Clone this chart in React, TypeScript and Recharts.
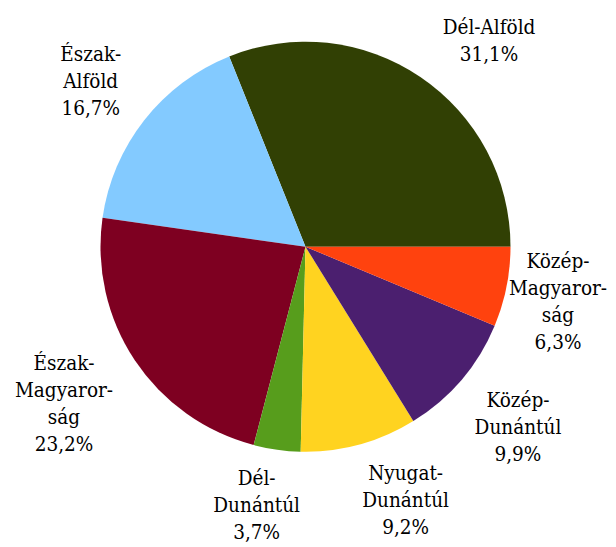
import React from "react";
import { PieChart, Pie, Cell } from "recharts";

const regions = [
  "Dél-Alföld",
  "Észak-Alföld",
  "Észak-Magyarország",
  "Dél-Dunántúl",
  "Nyugat-Dunántúl",
  "Közép-Dunántúl",
  "Közép-Magyarország",
];
const shares = [31.1, 16.7, 23.2, 3.7, 9.2, 9.9, 6.3];
const labelLines = [
  ["Dél-Alföld"],
  ["Észak-", "Alföld"],
  ["Észak-", "Magyaror-", "ság"],
  ["Dél-", "Dunántúl"],
  ["Nyugat-", "Dunántúl"],
  ["Közép-", "Dunántúl"],
  ["Közép-", "Magyaror-", "ság"],
];
const colors = ["#314004", "#83caff", "#7e0021", "#579d1c", "#ffd320", "#4b1f6f", "#ff420e"];

// label block centre offset from the point on the rim at the slice's mid angle
const labelOffsets = [
  [68.7, -36.9],
  [-53.5, -39.8],
  [-70.8, 42.8],
  [-20.3, 54.8],
  [46.4, 55],
  [56.5, 46.3],
  [51.5, 14],
];

const data = regions.map((name, i) => ({ name, value: shares[i] }));

const RAD = Math.PI / 180;
const LINE_H = 27;
const FONT = 21;
const SCALE_X = 0.88;
const SERIF = "DejaVu Serif";

const renderLabel = (props: any) => {
  const { cx, cy, midAngle, outerRadius, index, value } = props;
  const px = cx + outerRadius * Math.cos(-midAngle * RAD);
  const py = cy + outerRadius * Math.sin(-midAngle * RAD);
  const [dx, dy] = labelOffsets[index];
  const lx = px + dx;
  const ly = py + dy;
  const lines = [...labelLines[index], value.toFixed(1).replace(".", ",") + "%"];
  const first = ly - ((lines.length - 1) * LINE_H) / 2 + FONT * 0.37;
  return (
    <text
      key={`lbl-${index}`}
      x={lx}
      y={first}
      textAnchor="middle"
      fontFamily={SERIF}
      fontSize={FONT}
      fill="#000"
      transform={`translate(${lx} 0) scale(${SCALE_X} 1) translate(${-lx} 0)`}
    >
      {lines.map((t, j) => (
        <tspan key={j} x={lx} y={first + j * LINE_H}>
          {t}
        </tspan>
      ))}
    </text>
  );
};

export default function App() {
  return (
    <div style={{ position: "absolute", left: 0, top: 0, width: 616, height: 547, background: "#fff" }}>
      <PieChart width={616} height={547} margin={{ top: 0, right: 0, bottom: 0, left: 0 }}>
        <Pie
          data={data}
          dataKey="value"
          nameKey="name"
          cx={305.5}
          cy={246.7}
          outerRadius={205}
          innerRadius={0}
          startAngle={0}
          endAngle={360}
          stroke="none"
          label={renderLabel}
          labelLine={false}
          isAnimationActive={false}
        >
          {data.map((d, i) => (
            <Cell key={d.name} fill={colors[i]} />
          ))}
        </Pie>
      </PieChart>
    </div>
  );
}
